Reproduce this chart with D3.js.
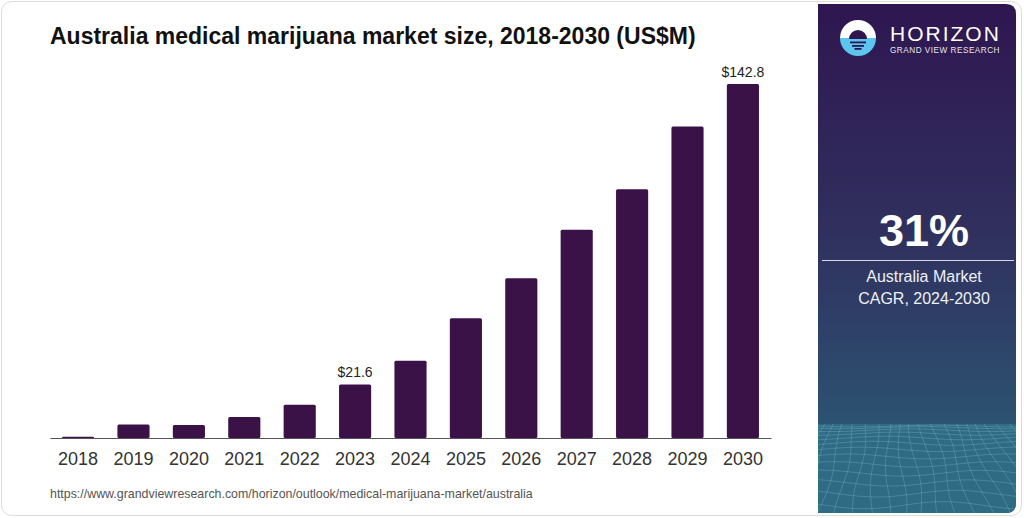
<!DOCTYPE html>
<html>
<head>
<meta charset="utf-8">
<script src="https://cdn.jsdelivr.net/npm/d3@7"></script>
<style>
  html, body { margin: 0; padding: 0; background: #fff; }
  svg { display: block; font-family: "Liberation Sans", Arial, sans-serif; }
</style>
</head>
<body>
<svg id="chart" width="1024" height="518"></svg>
<script>
// chart data
var years = ["2018","2019","2020","2021","2022","2023","2024","2025","2026","2027","2028","2029","2030"];
var marketSize = [0.5, 5.4, 5.2, 8.5, 13.4, 21.6, 31.2, 48.3, 64.4, 84.0, 100.3, 125.7, 142.8];
var labelledYears = ["2023", "2030"];

var titleText = "Australia medical marijuana market size, 2018-2030 (US$M)";
var sourceText = "https://www.grandviewresearch.com/horizon/outlook/medical-marijuana-market/australia";
var cagrValue = "31%";
var cagrLines = ["Australia Market", "CAGR, 2024-2030"];

var svg = d3.select("#chart");
var defs = svg.append("defs");

// outer card
svg.append("rect")
  .attr("x", 1.5).attr("y", 1.5)
  .attr("width", 1020).attr("height", 514)
  .attr("rx", 10)
  .attr("fill", "#fff")
  .attr("stroke", "#dcdcdc");

// side panel gradient
var grad = defs.append("linearGradient")
  .attr("id", "panelGrad")
  .attr("x1", 0).attr("y1", 0).attr("x2", 0).attr("y2", 1);
grad.append("stop").attr("offset", "0%").attr("stop-color", "#2f1650");
grad.append("stop").attr("offset", "45%").attr("stop-color", "#30305e");
grad.append("stop").attr("offset", "80%").attr("stop-color", "#2c5070");
grad.append("stop").attr("offset", "100%").attr("stop-color", "#2f6a80");

defs.append("clipPath").attr("id", "panelClip")
  .append("path")
  .attr("d", "M818,4 H1006 Q1016,4 1016,14 V503 Q1016,513 1006,513 H818 Z");

var panel = svg.append("g").attr("clip-path", "url(#panelClip)");
panel.append("rect")
  .attr("x", 818).attr("y", 4)
  .attr("width", 198).attr("height", 509)
  .attr("fill", "url(#panelGrad)");

// wireframe decoration at the bottom of the panel
panel.append("rect")
  .attr("x", 818).attr("y", 424)
  .attr("width", 198).attr("height", 90)
  .attr("fill", "#2f6c84");
var mesh = panel.append("g")
  .attr("stroke", "#8fd0e0")
  .attr("stroke-width", 0.6)
  .attr("stroke-opacity", 0.45)
  .attr("fill", "none");
var line = d3.line().curve(d3.curveBasis);
d3.range(0, 14).forEach(function(i) {
  var y0 = 426 + i * i * 0.45 + i * 1.2;
  var pts = d3.range(0, 11).map(function(j) {
    var x = 818 + j * 20;
    return [x, y0 + Math.sin(j * 0.8 + i * 0.5) * (1 + i * 0.25)];
  });
  mesh.append("path").attr("d", line(pts));
});
d3.range(0, 22).forEach(function(k) {
  var xTop = 800 + k * 11;
  var pts = d3.range(0, 8).map(function(j) {
    var y = 424 + j * 13;
    return [xTop + j * (k - 8) * 0.9 + Math.sin(j * 0.9 + k) * 3, y];
  });
  mesh.append("path").attr("d", line(pts));
});

// logo
var logo = svg.append("g").attr("transform", "translate(858,38)");
logo.append("path")
  .attr("d", d3.arc()({innerRadius: 0, outerRadius: 18, startAngle: -Math.PI / 2, endAngle: Math.PI / 2}))
  .attr("fill", "#fff");
logo.append("path")
  .attr("d", d3.arc()({innerRadius: 0, outerRadius: 18, startAngle: Math.PI / 2, endAngle: Math.PI * 1.5}))
  .attr("fill", "#5cc6ee");
logo.append("path")
  .attr("d", d3.arc()({innerRadius: 0, outerRadius: 9, startAngle: -Math.PI / 2, endAngle: Math.PI / 2}))
  .attr("transform", "translate(0,1)")
  .attr("fill", "#2f1650");
[3.5, 7, 10].forEach(function(dy, i) {
  var w = [16, 12, 7][i];
  logo.append("rect")
    .attr("x", -w / 2).attr("y", dy)
    .attr("width", w).attr("height", 1.8)
    .attr("fill", "#2f1650");
});
svg.append("text")
  .attr("x", 890).attr("y", 41)
  .attr("fill", "#fff")
  .attr("font-size", 21)
  .attr("letter-spacing", 2.0)
  .text("HORIZON");
svg.append("text")
  .attr("x", 890).attr("y", 53)
  .attr("fill", "#e6e6f0")
  .attr("font-size", 8.2)
  .attr("letter-spacing", 0.5)
  .text("GRAND VIEW RESEARCH");

// CAGR block
svg.append("text")
  .attr("x", 924).attr("y", 246)
  .attr("text-anchor", "middle")
  .attr("fill", "#fff")
  .attr("font-weight", "bold")
  .attr("font-size", 45)
  .text(cagrValue);
svg.append("line")
  .attr("x1", 822).attr("x2", 1014)
  .attr("y1", 260.5).attr("y2", 260.5)
  .attr("stroke", "#d8d8e8")
  .attr("stroke-width", 1.2);
svg.selectAll("text.cagr")
  .data(cagrLines)
  .join("text")
  .attr("class", "cagr")
  .attr("x", 924)
  .attr("y", function(d, i) { return 282 + i * 22; })
  .attr("text-anchor", "middle")
  .attr("fill", "#eef0f6")
  .attr("font-size", 16)
  .text(function(d) { return d; });

// title
svg.append("text")
  .attr("x", 50).attr("y", 44)
  .attr("font-size", 23)
  .attr("font-weight", "bold")
  .attr("fill", "#111")
  .text(titleText);

// bars
var x = d3.scaleBand()
  .domain(years)
  .range([50, 771])
  .paddingInner(0.42)
  .paddingOuter(0.217);

var y = d3.scaleLinear()
  .domain([0, 142.8])
  .range([438, 84]);

svg.append("g")
  .selectAll("rect")
  .data(marketSize)
  .join("rect")
  .attr("x", function(d, i) { return x(years[i]); })
  .attr("y", function(d) { return y(d); })
  .attr("width", x.bandwidth())
  .attr("height", function(d) { return y(0) - y(d); })
  .attr("rx", 1.5)
  .attr("fill", "#3a1248");

// value labels
svg.append("g")
  .selectAll("text")
  .data(years.filter(function(yr) { return labelledYears.indexOf(yr) >= 0; }))
  .join("text")
  .attr("x", function(yr) { return x(yr) + x.bandwidth() / 2; })
  .attr("y", function(yr) { return y(marketSize[years.indexOf(yr)]) - 7; })
  .attr("text-anchor", "middle")
  .attr("font-size", 14)
  .attr("fill", "#222")
  .text(function(yr) { return "$" + marketSize[years.indexOf(yr)].toFixed(1); });

// x axis
var xAxis = svg.append("g")
  .attr("transform", "translate(0,438)")
  .call(d3.axisBottom(x).tickSize(0).tickPadding(14));
xAxis.select(".domain").attr("stroke", "#555").attr("stroke-width", 1.2);
xAxis.selectAll("text")
  .attr("font-size", 18)
  .attr("fill", "#333")
  .attr("font-family", "Liberation Sans, Arial, sans-serif");

// source
svg.append("text")
  .attr("x", 50).attr("y", 498)
  .attr("font-size", 12.4)
  .attr("fill", "#555")
  .text(sourceText);
</script>
</body>
</html>
